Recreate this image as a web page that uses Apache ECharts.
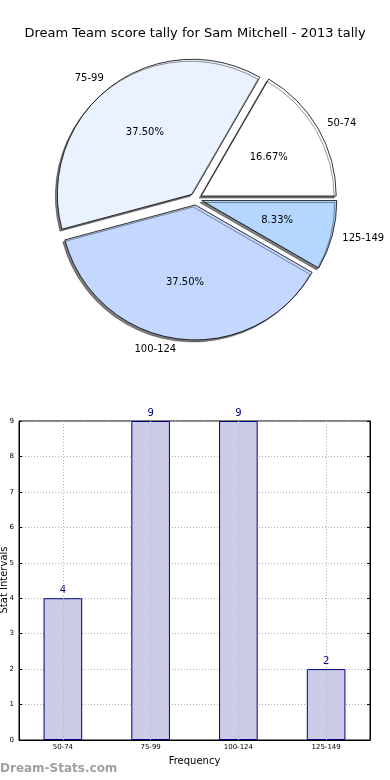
<!DOCTYPE html>
<html><head><meta charset="utf-8">
<script src="https://cdn.jsdelivr.net/npm/echarts@6/dist/echarts.min.js"></script>
<style>html,body{margin:0;padding:0;background:#fff}#c{width:390px;height:780px}</style>
</head><body><div id="c"></div>
<script>
const categories = ['50-74', '75-99', '100-124', '125-149'];
const counts = [4, 9, 9, 2];
const pieColors = ['#ffffff', '#eaf2ff', '#c4d8ff', '#b4d6ff'];
const yTicks = [0, 1, 2, 3, 4, 5, 6, 7, 8, 9];
const titleText = 'Dream Team score tally for Sam Mitchell - 2013 tally';

const FONT = 'DejaVu Sans';
const total = counts.reduce((a, b) => a + b, 0);
const R = 135;
const C = [196, 199];

const ctx = document.createElement('canvas').getContext('2d');
ctx.font = '10px "' + FONT + '"';
const tw = s => ctx.measureText(s).width;
let acc = 0;
const sides = counts.map(v => {
  const mid = (acc + v / 2) / total * 2 * Math.PI; acc += v;
  return Math.cos(mid) >= 0 ? 1 : -1;
});

const chart = echarts.init(document.getElementById('c'), null, {renderer: 'canvas'});
chart.setOption({
  animation: false,
  title: {text: titleText, left: 'center', top: 22,
    textStyle: {fontFamily: FONT, fontSize: 13, fontWeight: 'normal', color: '#000'}},
  graphic: [{type: 'text', left: 0, top: 763,
    style: {text: 'Dream-Stats.com', fontFamily: FONT, fontSize: 12, fontWeight: 'bold', fill: '#a0a0a0'}},
    {type: 'text', x: 4, y: 580, rotation: Math.PI / 2,
    style: {text: 'Stat Intervals', fontFamily: FONT, fontSize: 10, fill: '#000',
      align: 'center', verticalAlign: 'middle'}}],
  grid: {left: 19, right: 20, top: 421, bottom: 40, show: true, borderColor: '#000', borderWidth: 1,
    containLabel: false, outerBoundsMode: 'none'},
  xAxis: {type: 'category', data: categories, boundaryGap: true,
    name: 'Frequency', nameLocation: 'middle', nameGap: 16,
    nameTextStyle: {fontFamily: FONT, fontSize: 10, color: '#000'},
    axisLine: {lineStyle: {color: '#000'}},
    axisTick: {show: false},
    axisLabel: {fontFamily: FONT, fontSize: 7, color: '#000', margin: 4},
    splitLine: {show: false}},
  yAxis: [{type: 'value', min: 0, max: 9, interval: 1,
    axisLine: {show: true, lineStyle: {color: '#000'}},
    axisTick: {show: true, inside: true, length: 3, lineStyle: {color: '#000'}},
    axisLabel: {fontFamily: FONT, fontSize: 7, color: '#000', margin: 5},
    splitLine: {show: true, lineStyle: {color: '#b0b0b0', type: [1, 2], width: 1}}},
    {type: 'value', min: 0, max: 9, interval: 1, position: 'right',
    axisLine: {show: true, lineStyle: {color: '#000'}},
    axisTick: {show: true, inside: true, length: 3, lineStyle: {color: '#000'}},
    axisLabel: {show: false}, splitLine: {show: false}}],
  series: [
    {type: 'pie', center: C, radius: [0, R], startAngle: 0, clockwise: false,
     selectedMode: 'multiple', selectedOffset: 6, silent: true,
     data: categories.map((n, i) => ({name: n, value: counts[i], selected: true,
       itemStyle: {color: pieColors[i]}})),
     itemStyle: {borderColor: '#000', borderWidth: 0.8,
       shadowColor: 'rgba(0,0,0,0.5)', shadowBlur: 0, shadowOffsetX: -2, shadowOffsetY: 2},
     label: {show: false}, labelLine: {show: false}},
    {type: 'pie', center: C, radius: [0, R * 1.2], startAngle: 0, clockwise: false,
     silent: true, z: 5,
     data: categories.map((n, i) => ({name: n, value: counts[i]})),
     itemStyle: {color: 'rgba(0,0,0,0)', borderWidth: 0},
     label: {show: true, position: 'inner', fontFamily: FONT, fontSize: 10, color: '#000',
       formatter: p => (p.value / total * 100).toFixed(2) + '%'},
     labelLine: {show: false}},
    {type: 'pie', center: C, radius: [0, R * 2.2], startAngle: 0, clockwise: false,
     silent: true, z: 5,
     data: categories.map((n, i) => ({name: n, value: counts[i],
       label: {offset: [sides[i] * tw(n) / 2, 0]}})),
     itemStyle: {color: 'rgba(0,0,0,0)', borderWidth: 0},
     label: {show: true, position: 'inner', fontFamily: FONT, fontSize: 10, color: '#000',
       formatter: p => p.name},
     labelLine: {show: false}},
    {type: 'bar', data: counts, barWidth: '44%',
     itemStyle: {color: '#ccccE6', borderColor: '#000080', borderWidth: 1},
     label: {show: true, position: 'top', distance: 3, fontFamily: FONT, fontSize: 10, color: '#000080'},
     markLine: {silent: true, symbol: 'none', label: {show: false},
       lineStyle: {color: '#b0b0b0', type: [1, 2], width: 1},
       data: categories.map(c => ({xAxis: c}))},
     z: 3}
  ]
});
</script></body></html>
